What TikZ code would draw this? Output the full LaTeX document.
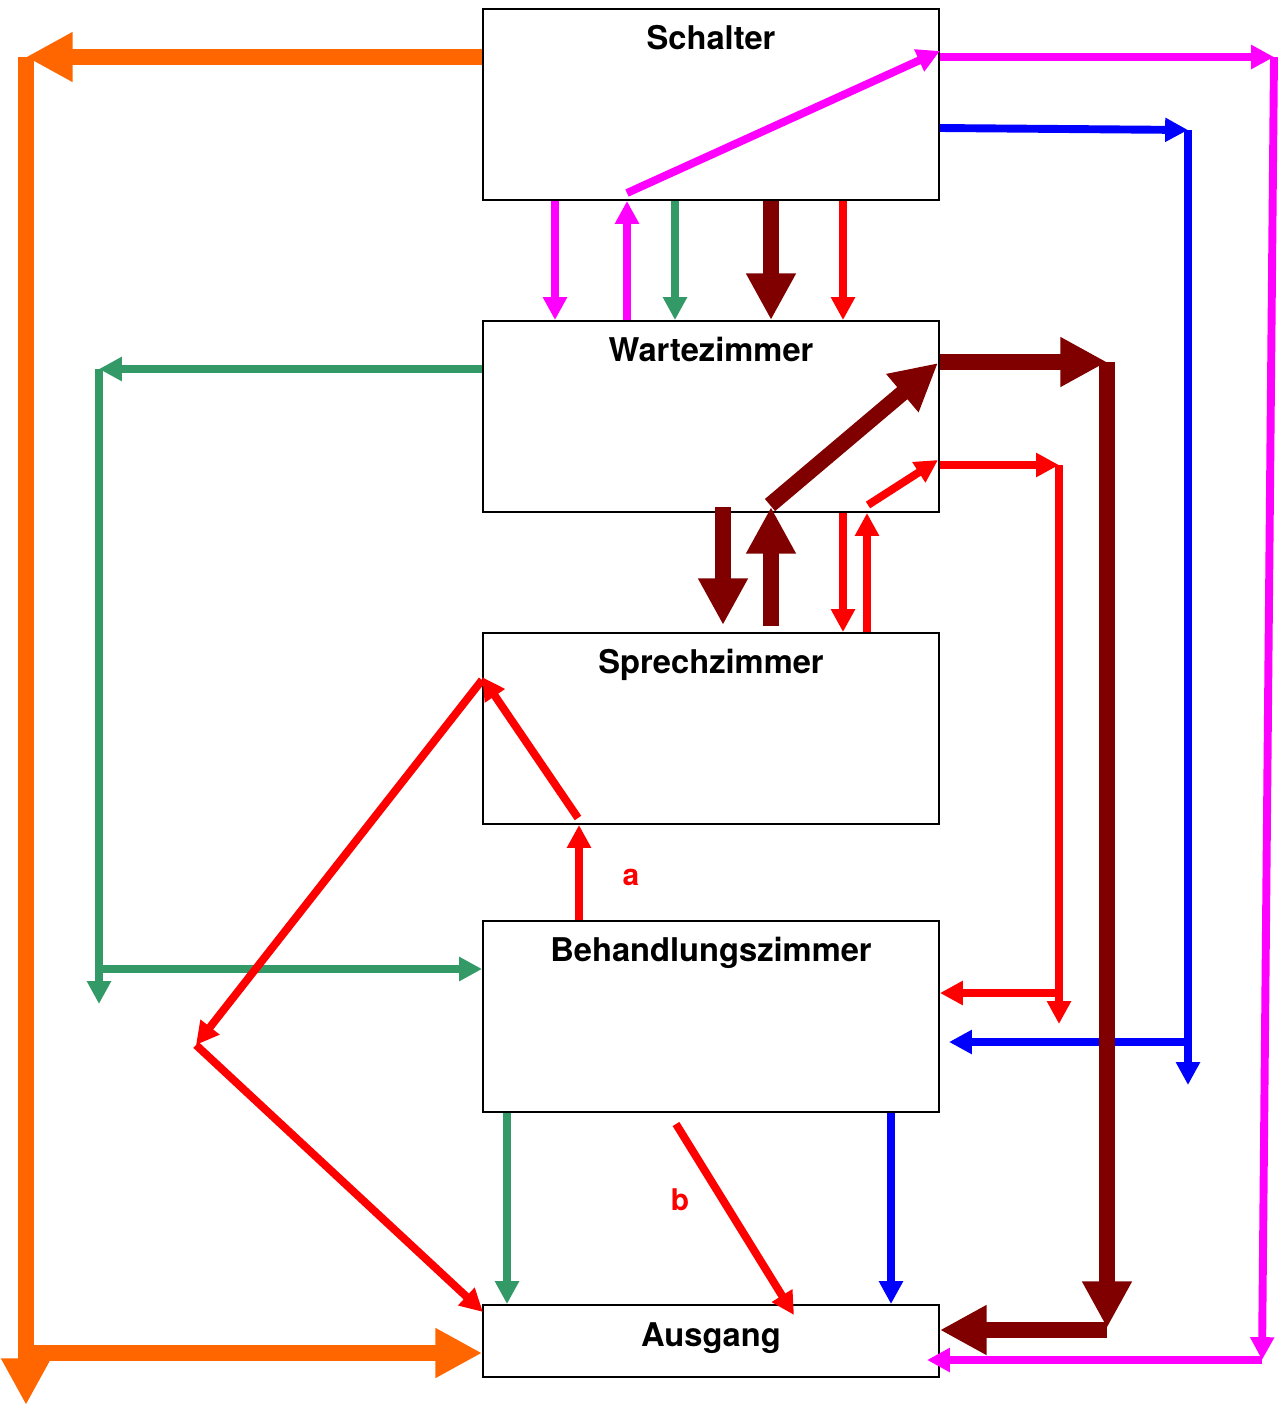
\documentclass[tikz,border=0pt]{standalone}
\usepackage{fontspec}
\setmainfont{TeX Gyre Heros}
\usetikzlibrary{arrows.meta}
\definecolor{orangeflow}{HTML}{FF6600}
\definecolor{pinkflow}{HTML}{FF00FF}
\definecolor{blueflow}{HTML}{0000FF}
\definecolor{greenflow}{HTML}{339966}
\definecolor{darkflow}{HTML}{800000}
\definecolor{redflow}{HTML}{FF0000}
\begin{document}
\begin{tikzpicture}[x=0.02cm,y=-0.02cm,
    box/.style={draw,line width=1.1pt,minimum width=9.12cm,minimum height=3.82cm,inner sep=0pt},
    every label/.style={font=\fontsize{18.6}{22}\selectfont\bfseries},
    flow/.style={line width=4.5pt,-{Triangle[width=13pt,length=13pt]}},
    bigflow/.style={line width=9pt,-{Triangle[width=26.6pt,length=26.6pt]}},
    tag/.style={font=\fontsize{17}{20}\selectfont\bfseries,text=redflow}]
    \useasboundingbox (0,0) rectangle (1283,1407);
    % rooms
    \foreach \n/\t/\y in {schalter/Schalter/104.5,warte/Wartezimmer/416.5,
            sprech/Sprechzimmer/728.5,behand/Behandlungszimmer/1016.5} {
            \node[box,label={[anchor=base,yshift=-0.82cm]north:\t}] (\n) at (711,\y) {};
        }
    \node[box,minimum height=1.44cm,label={[anchor=base,yshift=-0.84cm]north:Ausgang}] (ausgang) at (711,1341) {};
    % turning points
    \coordinate (oTL) at (26,57);
    \coordinate (oBL) at (26,1405);
    \coordinate (oB) at (26,1353);
    \coordinate (mS) at (627,193);
    \coordinate (mTR) at (1274,57);
    \coordinate (mBR) at (1262,1360);
    \coordinate (mBL) at (927,1360);
    \coordinate (bTR) at (1188,130);
    \coordinate (bB) at (1188,1085);
    \coordinate (bM) at (1188,1042);
    \coordinate (bL) at (949,1042);
    \coordinate (gTL) at (99,369);
    \coordinate (gB) at (99,1004);
    \coordinate (gM) at (99,969);
    \coordinate (dA) at (723,507);
    \coordinate (dB) at (723,625);
    \coordinate (dC) at (771,626);
    \coordinate (dD) at (771,507);
    \coordinate (dE) at (770,505);
    \coordinate (dF) at (938,363);
    \coordinate (dTR) at (1107,362);
    \coordinate (dBR) at (1107,1328);
    \coordinate (dB2) at (1107,1330);
    \coordinate (rA) at (868,505);
    \coordinate (rB) at (938,460);
    \coordinate (rTR) at (1059,465);
    \coordinate (rB2) at (1059,1024);
    \coordinate (rM) at (1059,993);
    \coordinate (rC) at (578,818);
    \coordinate (rL) at (196,1045);
    \coordinate (rE) at (483,1312);
    \coordinate (rF) at (676,1124);
    \coordinate (rG) at (794,1315);
    % orange
    \draw[bigflow,orangeflow] (schalter.west |- oTL) -- (oTL);
    \draw[bigflow,orangeflow] (oTL) -- (oBL);
    \draw[bigflow,orangeflow] (oB) -- (ausgang.west |- oB);
    % magenta
    \draw[flow,pinkflow] (schalter.south -| 555,0) -- (warte.north -| 555,0);
    \draw[flow,pinkflow] (warte.north -| 627,0) -- (schalter.south -| 627,0);
    \draw[flow,pinkflow] (mS) -- (schalter.east |- 0,51);
    \draw[flow,pinkflow] (schalter.east |- mTR) -- (mTR);
    \draw[flow,pinkflow] (mTR) -- (mBR);
    \draw[flow,pinkflow] (mBR) -- (mBL);
    % blue
    \draw[flow,blueflow] (schalter.east |- 0,128) -- (bTR);
    \draw[flow,blueflow] (bTR) -- (bB);
    \draw[flow,blueflow] (bM) -- (bL);
    \draw[flow,blueflow] (behand.south -| 891,0) -- (ausgang.north -| 891,0);
    % green
    \draw[flow,greenflow] (schalter.south -| 675,0) -- (warte.north -| 675,0);
    \draw[flow,greenflow] (warte.west |- gTL) -- (gTL);
    \draw[flow,greenflow] (gTL) -- (gB);
    \draw[flow,greenflow] (gM) -- (behand.west |- gM);
    \draw[flow,greenflow] (behand.south -| 507,0) -- (ausgang.north -| 507,0);
    % dark red
    \draw[bigflow,darkflow] (schalter.south -| 771,0) -- (warte.north -| 771,0);
    \draw[bigflow,darkflow] (dA) -- (dB);
    \draw[bigflow,darkflow] (dC) -- (dD);
    \draw[bigflow,darkflow] (dE) -- (dF);
    \draw[bigflow,darkflow] (warte.east |- dTR) -- (dTR);
    \draw[bigflow,darkflow] (dTR) -- (dBR);
    \draw[bigflow,darkflow] (dB2) -- (ausgang.east |- dB2);
    % red
    \draw[flow,redflow] (schalter.south -| 843,0) -- (warte.north -| 843,0);
    \draw[flow,redflow] (warte.south -| 843,0) -- (sprech.north -| 843,0);
    \draw[flow,redflow] (sprech.north -| 867,0) -- (warte.south -| 867,0);
    \draw[flow,redflow] (rA) -- (rB);
    \draw[flow,redflow] (warte.east |- rTR) -- (rTR);
    \draw[flow,redflow] (rTR) -- (rB2);
    \draw[flow,redflow] (rM) -- (behand.east |- rM);
    \draw[flow,redflow] (behand.north -| 579,0) -- (sprech.south -| 579,0);
    \draw[flow,redflow] (rC) -- (sprech.west |- 0,677);
    \draw[flow,redflow] (sprech.west |- 0,680) -- (rL);
    \draw[flow,redflow] (rL) -- (rE);
    \draw[flow,redflow] (rF) -- (rG);
    \node[tag] (tagA) at (631,877) {a};
    \node[tag] (tagB) at (680,1200) {b};
\end{tikzpicture}
\end{document}
